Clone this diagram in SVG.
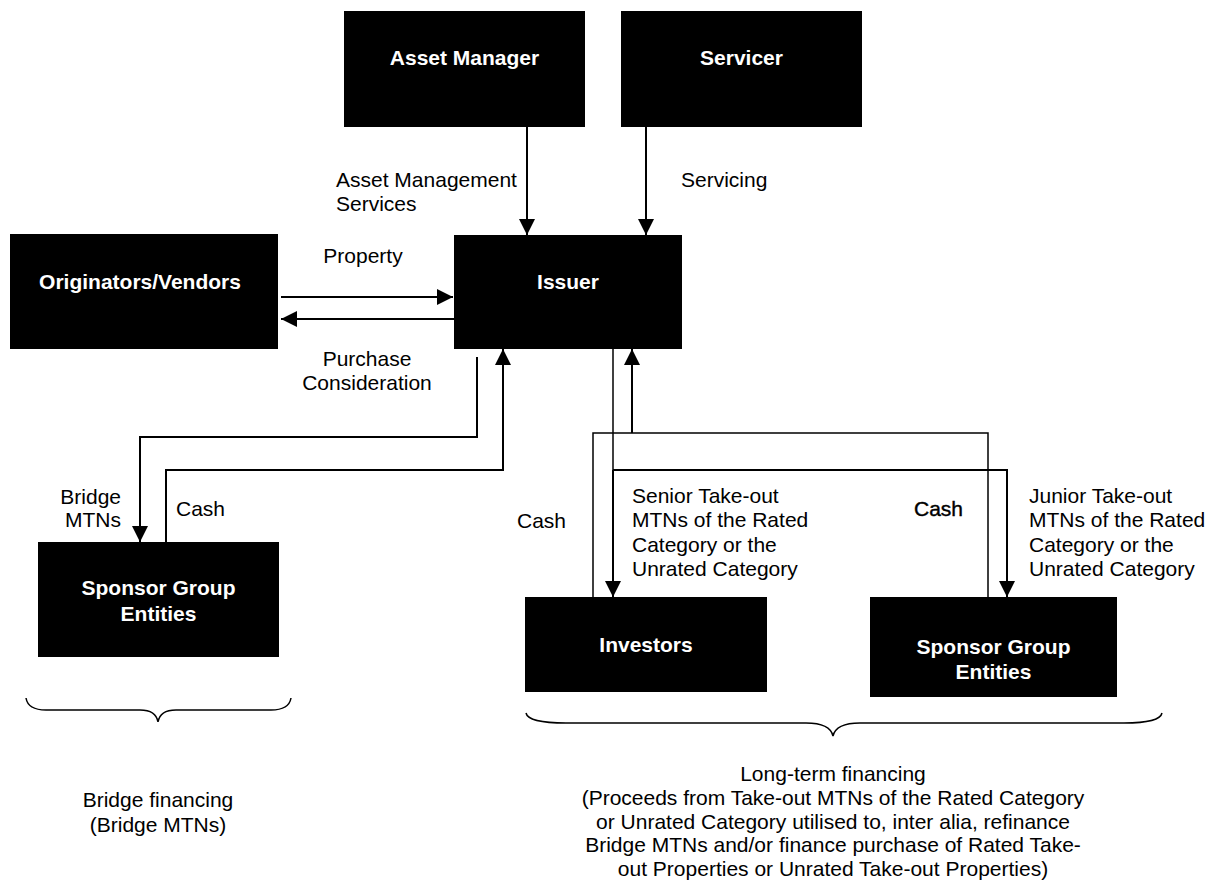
<svg xmlns="http://www.w3.org/2000/svg" width="1208" height="881" viewBox="0 0 1208 881">
<style>
.box{fill:#000}
.nl{font-family:"Liberation Sans",Arial,sans-serif;font-size:21px;font-weight:bold;fill:#fff;text-anchor:middle}
.lb{font-family:"Liberation Sans",Arial,sans-serif;font-size:21px;fill:#000}
.mid{text-anchor:middle}
.ar{fill:none;stroke:#000;stroke-width:2;marker-end:url(#ah)}
.ln{fill:none;stroke:#000;stroke-width:1.5}
.br{fill:none;stroke:#000;stroke-width:1.5}
</style>
<defs>
<marker id="ah" viewBox="0 0 16 16" refX="16" refY="8" markerWidth="16" markerHeight="16" markerUnits="userSpaceOnUse" orient="auto">
<path d="M0,0 L16,8 L0,16 Z" fill="#000"/>
</marker>
</defs>
<rect width="1208" height="881" fill="#fff"/>
<g id="asset-manager"><rect class="box" x="344" y="11" width="241" height="116"/><text class="nl" x="464.5" y="65">Asset Manager</text></g>
<g id="servicer"><rect class="box" x="621" y="11" width="241" height="116"/><text class="nl" x="741.5" y="65">Servicer</text></g>
<g id="originators"><rect class="box" x="10" y="234" width="268" height="115"/><text class="nl" x="140" y="289">Originators/Vendors</text></g>
<g id="issuer"><rect class="box" x="454" y="235" width="228" height="114"/><text class="nl" x="568" y="289">Issuer</text></g>
<g id="sponsor-bridge"><rect class="box" x="38" y="542" width="241" height="115"/><text class="nl" x="158.5" y="595">Sponsor Group</text><text class="nl" x="158.5" y="621">Entities</text></g>
<g id="investors"><rect class="box" x="525" y="597" width="242" height="95"/><text class="nl" x="646" y="652">Investors</text></g>
<g id="sponsor-longterm"><rect class="box" x="870" y="597" width="247" height="100"/><text class="nl" x="993.5" y="654">Sponsor Group</text><text class="nl" x="993.5" y="679">Entities</text></g>
<g id="connectors">
<path class="ar" d="M527,127 V235"/>
<path class="ar" d="M646,127 V235"/>
<path class="ar" d="M281,297 H453"/>
<path class="ar" d="M454,319 H281"/>
<path class="ar" d="M477,357 V437 H140 V542"/>
<path class="ar" d="M166,542 V470 H503 V349"/>
<path class="ln" d="M613,349 V470"/>
<path class="ar" d="M613,470 V597"/>
<path class="ar" d="M613,470 H1007 V597"/>
<path class="ln" d="M593,597 V433 H988 V597"/>
<path class="ar" d="M632,433 V349"/>
</g>
<g id="labels">
<text class="lb" x="336" y="187">Asset Management</text>
<text class="lb" x="336" y="211">Services</text>
<text class="lb" x="681" y="187">Servicing</text>
<text class="lb mid" x="363" y="263">Property</text>
<text class="lb mid" x="367" y="366">Purchase</text>
<text class="lb mid" x="367" y="390">Consideration</text>
<text class="lb" x="121" y="504" text-anchor="end">Bridge</text>
<text class="lb" x="121" y="527" text-anchor="end">MTNs</text>
<text class="lb" x="176" y="516">Cash</text>
<text class="lb" x="517" y="528">Cash</text>
<text class="lb" x="632" y="503">Senior Take-out</text>
<text class="lb" x="632" y="527">MTNs of the Rated</text>
<text class="lb" x="632" y="552">Category or the</text>
<text class="lb" x="632" y="576">Unrated Category</text>
<text class="lb" x="914" y="516" stroke="#000" stroke-width="0.4">Cash</text>
<text class="lb" x="1029" y="503">Junior Take-out</text>
<text class="lb" x="1029" y="527">MTNs of the Rated</text>
<text class="lb" x="1029" y="552">Category or the</text>
<text class="lb" x="1029" y="576">Unrated Category</text>
<text class="lb mid" x="158" y="807">Bridge financing</text>
<text class="lb mid" x="158" y="832">(Bridge MTNs)</text>
<text class="lb mid" x="833" y="781">Long-term financing</text>
<text class="lb mid" x="833" y="805">(Proceeds from Take-out MTNs of the Rated Category</text>
<text class="lb mid" x="833" y="829">or Unrated Category utilised to, inter alia, refinance</text>
<text class="lb mid" x="833" y="852">Bridge MTNs and/or finance purchase of Rated Take-</text>
<text class="lb mid" x="833" y="876">out Properties or Unrated Take-out Properties)</text>
</g>
<path class="br" d="M26,698 Q28,710 46,710 L140,710 Q156,710 158,722 Q160,710 176,710 L271,710 Q289,710 291,698"/>
<path class="br" d="M526,713 Q528,723 566,723 L806,723 Q830,723 833,736 Q836,723 860,723 L1124,723 Q1160,723 1162,713"/>
</svg>
